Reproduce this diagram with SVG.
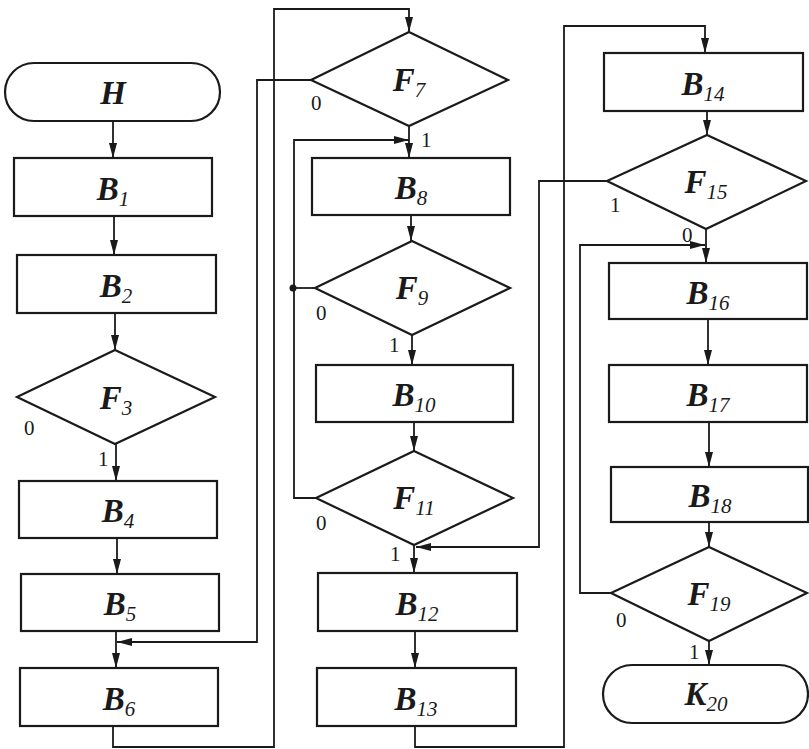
<svg xmlns="http://www.w3.org/2000/svg" width="809" height="749" viewBox="0 0 809 749">
<defs>
<marker id="arr" markerUnits="userSpaceOnUse" markerWidth="16" markerHeight="10" refX="15" refY="4" orient="auto">
<path d="M0,0 L15,4 L0,8 z" fill="#1a1a1a"/>
</marker>
<style>
.n{fill:#fff;stroke:#1a1a1a;stroke-width:2.2}
.c{fill:none;stroke:#1a1a1a;stroke-width:1.8}
.a{marker-end:url(#arr)}
.t{font-family:"Liberation Serif",serif;font-size:33px;font-weight:bold;font-style:italic;text-anchor:middle;fill:#1a1a1a}
.s{font-size:21px;font-weight:normal}
.l{font-family:"Liberation Serif",serif;font-size:21px;fill:#1a1a1a}
</style>
</defs>
<rect width="809" height="749" fill="#fff"/>
<g id="connectors">
<path class="c a" d="M113,121 V158"/>
<path class="c a" d="M114,216 V255"/>
<path class="c a" d="M115,313 V350"/>
<path class="c a" d="M116,444 V481"/>
<path class="c a" d="M117,538 V574"/>
<path class="c a" d="M116,631 V668"/>
<path class="c a" d="M311,80 H257 V642 H117"/>
<path class="c a" d="M113,726 V747 H274 V9 H409 V32"/>
<path class="c a" d="M409,126 V158"/>
<path class="c a" d="M411,215 V241"/>
<path class="c" d="M315,288 H293"/>
<circle cx="293" cy="288" r="3.5" fill="#1a1a1a"/>
<path class="c a" d="M316,498 H294 V140 H409"/>
<path class="c a" d="M412,335 V365"/>
<path class="c a" d="M414,422 V451"/>
<path class="c a" d="M414,545 V573"/>
<path class="c a" d="M607,181 H539 V547 H416"/>
<path class="c a" d="M415,631 V668"/>
<path class="c a" d="M415,726 V747 H564 V26 H705 V53"/>
<path class="c a" d="M707,111 V135"/>
<path class="c a" d="M706,229 V263"/>
<path class="c a" d="M611,593 H580 V245 H705"/>
<path class="c a" d="M708,319 V365"/>
<path class="c a" d="M709,422 V467"/>
<path class="c a" d="M709,522 V547"/>
<path class="c a" d="M709,641 V665"/>
</g>
<g id="labels">
<text class="l" x="24" y="435">0</text>
<text class="l" x="98" y="466">1</text>
<text class="l" x="311" y="110">0</text>
<text class="l" x="421" y="147">1</text>
<text class="l" x="316" y="320">0</text>
<text class="l" x="389" y="352">1</text>
<text class="l" x="316" y="530">0</text>
<text class="l" x="390" y="561">1</text>
<text class="l" x="610" y="212">1</text>
<text class="l" x="682" y="242">0</text>
<text class="l" x="616" y="627">0</text>
<text class="l" x="689" y="659">1</text>
</g>
<g id="H"><rect class="n" x="5" y="63" width="215" height="58" rx="29"/><text class="t" x="113" y="104">H</text></g>
<g id="B1"><rect class="n" x="14" y="158" width="198" height="58"/><text class="t" x="113" y="200">B<tspan class="s" dy="6">1</tspan></text></g>
<g id="B2"><rect class="n" x="17" y="255" width="199" height="58"/><text class="t" x="116" y="297">B<tspan class="s" dy="6">2</tspan></text></g>
<g id="F3"><path class="n" d="M115,350 L215,397 L115,444 L17,397 Z"/><text class="t" x="116" y="409">F<tspan class="s" dy="6">3</tspan></text></g>
<g id="B4"><rect class="n" x="19" y="481" width="198" height="57"/><text class="t" x="118" y="522">B<tspan class="s" dy="6">4</tspan></text></g>
<g id="B5"><rect class="n" x="21" y="574" width="198" height="57"/><text class="t" x="120" y="615">B<tspan class="s" dy="6">5</tspan></text></g>
<g id="B6"><rect class="n" x="20" y="668" width="198" height="58"/><text class="t" x="119" y="710">B<tspan class="s" dy="6">6</tspan></text></g>
<g id="F7"><path class="n" d="M409,32 L508,80 L409,126 L311,80 Z"/><text class="t" x="409" y="91">F<tspan class="s" dy="6">7</tspan></text></g>
<g id="B8"><rect class="n" x="312" y="158" width="198" height="57"/><text class="t" x="411" y="199">B<tspan class="s" dy="6">8</tspan></text></g>
<g id="F9"><path class="n" d="M412,241 L510,288 L412,335 L315,288 Z"/><text class="t" x="412" y="299">F<tspan class="s" dy="6">9</tspan></text></g>
<g id="B10"><rect class="n" x="316" y="365" width="197" height="57"/><text class="t" x="414" y="406">B<tspan class="s" dy="6">10</tspan></text></g>
<g id="F11"><path class="n" d="M414,451 L513,498 L414,545 L316,498 Z"/><text class="t" x="414" y="509">F<tspan class="s" dy="6">11</tspan></text></g>
<g id="B12"><rect class="n" x="318" y="573" width="199" height="58"/><text class="t" x="417" y="615">B<tspan class="s" dy="6">12</tspan></text></g>
<g id="B13"><rect class="n" x="317" y="668" width="199" height="58"/><text class="t" x="416" y="710">B<tspan class="s" dy="6">13</tspan></text></g>
<g id="B14"><rect class="n" x="604" y="53" width="199" height="58"/><text class="t" x="703" y="95">B<tspan class="s" dy="6">14</tspan></text></g>
<g id="F15"><path class="n" d="M707,135 L806,181 L706,229 L607,181 Z"/><text class="t" x="706" y="193">F<tspan class="s" dy="6">15</tspan></text></g>
<g id="B16"><rect class="n" x="609" y="263" width="198" height="56"/><text class="t" x="708" y="304">B<tspan class="s" dy="6">16</tspan></text></g>
<g id="B17"><rect class="n" x="609" y="365" width="198" height="57"/><text class="t" x="708" y="406">B<tspan class="s" dy="6">17</tspan></text></g>
<g id="B18"><rect class="n" x="611" y="467" width="197" height="55"/><text class="t" x="710" y="507">B<tspan class="s" dy="6">18</tspan></text></g>
<g id="F19"><path class="n" d="M709,547 L807,593 L709,641 L611,593 Z"/><text class="t" x="709" y="605">F<tspan class="s" dy="6">19</tspan></text></g>
<g id="K20"><rect class="n" x="603" y="665" width="205" height="58" rx="29"/><text class="t" x="706" y="705">K<tspan class="s" dy="6">20</tspan></text></g>
</svg>
